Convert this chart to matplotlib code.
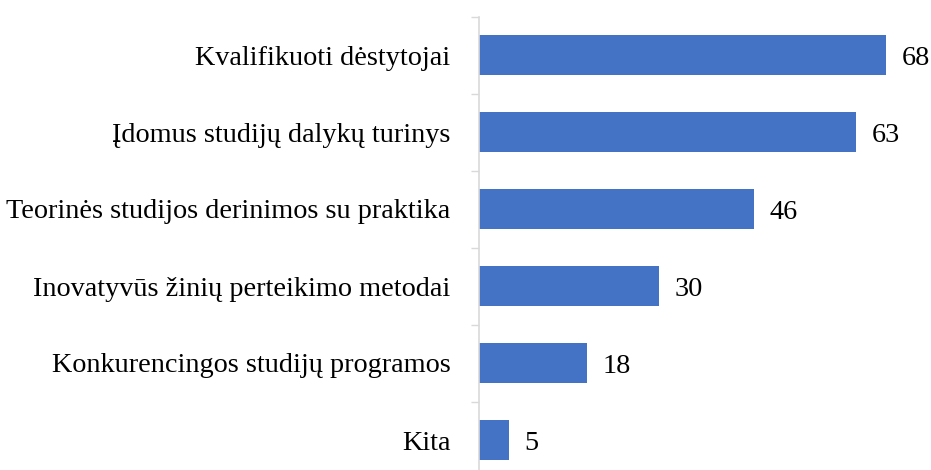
import matplotlib
matplotlib.use("Agg")
import matplotlib.pyplot as plt
import numpy as np

categories = ["Kvalifikuoti dėstytojai", "Įdomus studijų dalykų turinys",
              "Teorinės studijos derinimos su praktika", "Inovatyvūs žinių perteikimo metodai",
              "Konkurencingos studijų programos", "Kita"]
values = [68, 63, 46, 30, 18, 5]

plt.rcParams['font.family'] = ['Liberation Serif', 'DejaVu Serif']

fig = plt.figure(figsize=(9.31, 4.70), dpi=100)
ax = fig.add_axes([479/931, 1 - 478.5/470, 449/931, 462/470])

y = np.arange(len(categories))
ax.barh(y, values, height=0.53, color='#4472C4')
ax.set_ylim(len(categories) - 0.5, -0.5)
ax.set_xlim(0, 75)
ax.set_yticks(y)
ax.set_yticklabels(categories, fontsize=20.3)
ax.tick_params(axis='y', which='major', length=0, pad=20.5)
ax.set_yticks(np.arange(-0.5, len(categories), 1), minor=True)
ax.tick_params(axis='y', which='minor', length=6, color='#d9d9d9', width=1)
ax.set_xticks([])
for s in ['top', 'right', 'bottom']:
    ax.spines[s].set_visible(False)
ax.spines['left'].set_color('#d9d9d9')
ax.spines['left'].set_linewidth(1.2)

for yi, v in zip(y, values):
    ax.text(v + 2.6, yi + 0.04, str(v), va='center', ha='left', fontsize=20.3)

fig.savefig("out.png", dpi=100)
